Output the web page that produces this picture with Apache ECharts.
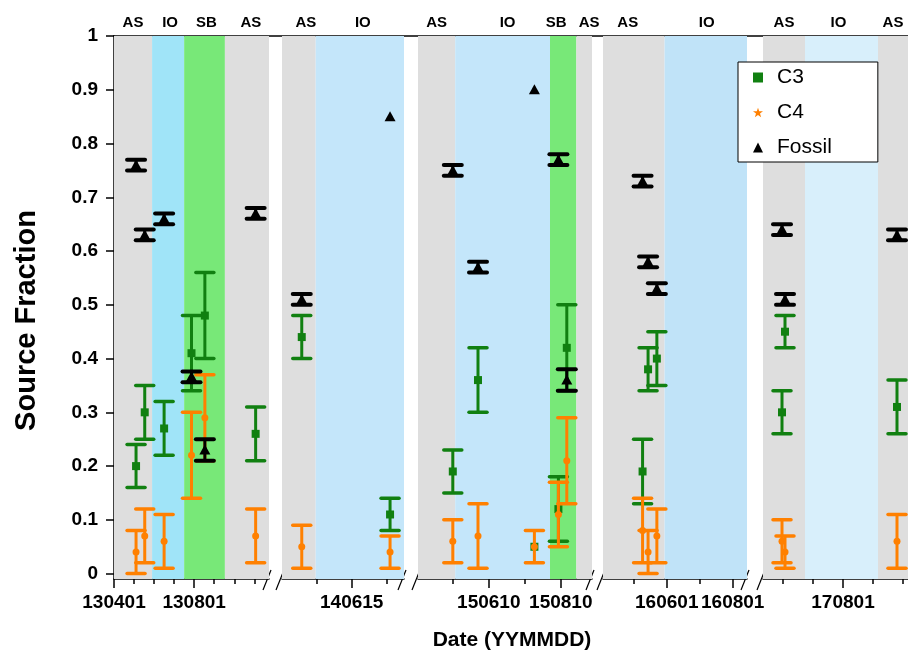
<!DOCTYPE html>
<html>
<head>
<meta charset="utf-8">
<title>Source Fraction</title>
<script src="https://cdn.jsdelivr.net/npm/echarts@6/dist/echarts.min.js"></script>
<style>
  html, body { margin: 0; padding: 0; background: #fff; }
  #main { width: 908px; height: 655px; }
</style>
</head>
<body>
<div id="main"></div>
<script>
// sampling dates (YYMMDD)
const dates = ['130504', '130517', '130616', '130727', '130817', '131103',
  '140502', '140718',
  '150510', '150531', '150718', '150808', '150815',
  '160509', '160514', '160522',
  '170530', '170603', '170925']
// source fractions and their errors
const c3 = [0.20, 0.30, 0.27, 0.41, 0.48, 0.26, 0.44, 0.11, 0.19, 0.36, 0.05, 0.12, 0.42, 0.19, 0.38, 0.40, 0.30, 0.45, 0.31]
const c3Err = [0.04, 0.05, 0.05, 0.07, 0.08, 0.05, 0.04, 0.03, 0.04, 0.06, 0, 0.06, 0.08, 0.06, 0.04, 0.05, 0.04, 0.03, 0.05]
const c4 = [0.04, 0.07, 0.06, 0.22, 0.29, 0.07, 0.05, 0.04, 0.06, 0.07, 0.05, 0.11, 0.21, 0.08, 0.04, 0.07, 0.06, 0.04, 0.06]
const c4Err = [0.04, 0.05, 0.05, 0.08, 0.08, 0.05, 0.04, 0.03, 0.04, 0.06, 0.03, 0.06, 0.08, 0.06, 0.04, 0.05, 0.04, 0.03, 0.05]
const fossil = [0.76, 0.63, 0.66, 0.366, 0.23, 0.67, 0.51, 0.85, 0.75, 0.57, 0.90, 0.77, 0.36, 0.73, 0.58, 0.53, 0.64, 0.51, 0.63]
const fossilErr = [0.01, 0.01, 0.01, 0.01, 0.02, 0.01, 0.01, 0, 0.01, 0.01, 0, 0.01, 0.02, 0.01, 0.01, 0.01, 0.01, 0.01, 0.01]

// broken axis: date range of each piece
const segStart = ['130401', '140415', '150411', '160403', '170511']
const segEnd = ['131123', '140730', '150906', '160814', '171006']
const tickLabels = [['130401', '130801'], ['140615'], ['150610', '150810'], ['160601', '160801'], ['170801']]
const minorTicks = [
  ['130501', '130601', '130701', '130901', '131001', '131101'],
  ['140515', '140715'],
  ['150510', '150710'],
  ['160501', '160701'],
  ['170601', '170701', '170901', '171001'],
]
const yTicks = [0, 0.1, 0.2, 0.3, 0.4, 0.5, 0.6, 0.7, 0.8, 0.9, 1]

// shaded periods
const bandSeg = [0, 0, 0, 0, 1, 1, 2, 2, 2, 2, 3, 3, 4, 4, 4]
const bandName = ['AS', 'IO', 'SB', 'AS', 'AS', 'IO', 'AS', 'IO', 'SB', 'AS', 'AS', 'IO', 'AS', 'IO', 'AS']
const bandStart = ['130401', '130528', '130716', '130917', '140415', '140514', '150411', '150512', '150801', '150823', '160403', '160529', '170511', '170623', '170906']
const bandEnd = ['130528', '130716', '130917', '131123', '140514', '140730', '150512', '150801', '150823', '150906', '160529', '160814', '170623', '170906', '171006']

// layout of the pieces (px)
const segLeft = [114, 282, 418, 603, 763]
const segWidth = [155, 122, 174, 144, 145]
const bandLabelDx = [0, 2, 2, 4, 7, 3, 0, 5, -7, 5, -6, 1, 0, -3, 0]
const ioColor = ['#a0e4f8', '#c4e6fa', '#c4e6fa', '#c0e3f8', '#d8effb']
const GREEN = '#118011'
const ORANGE = '#ff8000'
const FONT = '"Liberation Sans", Arial, sans-serif'

// YYMMDD -> months since 2013-01
function toMonth(s) {
  const yy = +s.slice(0, 2), mm = +s.slice(2, 4), dd = +s.slice(4, 6)
  return (yy - 13) * 12 + (mm - 1) + (dd - 1) / 30
}

function errorBar(color, marker, capWidth) {
  return function (params, api) {
    const x = api.value(0), y = api.value(1), e = api.value(2)
    const p = api.coord([x, y])
    const children = []
    if (e > 0) {
      const t = api.coord([x, y + e])[1]
      const b = api.coord([x, y - e])[1]
      children.push({ type: 'line', shape: { x1: p[0], y1: t, x2: p[0], y2: b }, style: { stroke: color, lineWidth: 3 } })
      children.push({ type: 'line', shape: { x1: p[0] - 9, y1: t, x2: p[0] + 9, y2: t }, style: { stroke: color, lineWidth: capWidth, lineCap: 'round' } })
      children.push({ type: 'line', shape: { x1: p[0] - 9, y1: b, x2: p[0] + 9, y2: b }, style: { stroke: color, lineWidth: capWidth, lineCap: 'round' } })
    }
    if (marker === 'square') {
      children.push({ type: 'rect', shape: { x: p[0] - 4, y: p[1] - 4, width: 8, height: 8 }, style: { fill: color } })
    } else if (marker === 'triangle') {
      children.push({ type: 'polygon', shape: { points: [[p[0], p[1] - 5.5], [p[0] - 5.5, p[1] + 4.5], [p[0] + 5.5, p[1] + 4.5]] }, style: { fill: color } })
    } else {
      children.push({ type: 'circle', shape: { cx: p[0], cy: p[1], r: 3.5 }, style: { fill: color } })
    }
    return { type: 'group', children: children }
  }
}

function segOf(d) {
  const m = toMonth(d)
  for (let s = 0; s < segStart.length; s++) {
    if (m >= toMonth(segStart[s]) && m <= toMonth(segEnd[s])) return s
  }
  return -1
}

const grids = [], xAxes = [], yAxes = [], series = []
const groups = [
  { name: 'C3', vals: c3, errs: c3Err, color: GREEN, marker: 'square', cap: 3.5 },
  { name: 'C4', vals: c4, errs: c4Err, color: ORANGE, marker: 'dot', cap: 3.5 },
  { name: 'Fossil', vals: fossil, errs: fossilErr, color: '#000', marker: 'triangle', cap: 4 },
]

for (let s = 0; s < segStart.length; s++) {
  grids.push({ left: segLeft[s], width: segWidth[s], top: 36, bottom: 76 })
  const min = toMonth(segStart[s]), max = toMonth(segEnd[s])
  const labels = tickLabels[s]
  xAxes.push({
    gridIndex: s, type: 'value', position: 'bottom', min: min, max: max,
    axisLine: { show: true, onZero: false, lineStyle: { color: '#000', width: 1.5 } },
    axisTick: { show: true, length: 9, customValues: labels.map(toMonth), lineStyle: { color: '#000', width: 1.5 } },
    axisLabel: {
      customValues: labels.map(toMonth), margin: 14, color: '#000', fontSize: 19, fontWeight: 'bold', fontFamily: FONT,
      formatter: function (v) {
        const hit = labels.find(function (l) { return Math.abs(toMonth(l) - v) < 1e-6 })
        return hit || ''
      },
    },
    splitLine: { show: false },
  })
  xAxes.push({
    gridIndex: s, type: 'value', position: 'bottom', min: min, max: max,
    axisLine: { show: false, onZero: false },
    axisTick: { show: true, length: 5, customValues: minorTicks[s].map(toMonth), lineStyle: { color: '#000', width: 1.5 } },
    axisLabel: { show: false },
    splitLine: { show: false },
  })
  const y = {
    gridIndex: s, type: 'value', min: -0.01, max: 1, show: s === 0,
    axisLine: { show: true, onZero: false, lineStyle: { color: '#000', width: 1.5 } },
    axisTick: { show: true, length: 8, customValues: yTicks, lineStyle: { color: '#000', width: 1.5 } },
    axisLabel: {
      customValues: yTicks, margin: 16, color: '#000', fontSize: 19, fontWeight: 'bold', fontFamily: FONT,
      formatter: function (v) { return String(+v.toFixed(1)) },
    },
    splitLine: { show: false },
  }
  if (s === 0) {
    y.name = 'Source Fraction'
    y.nameLocation = 'middle'
    y.nameGap = 73
    y.nameTextStyle = { fontSize: 29, fontWeight: 'bold', color: '#000', fontFamily: FONT, padding: [0, 26, 0, 0] }
  }
  yAxes.push(y)

  // background periods
  const areas = []
  for (let i = 0; i < bandName.length; i++) {
    if (bandSeg[i] !== s) continue
    const n = bandName[i]
    const color = n === 'AS' ? '#dedede' : n === 'SB' ? '#78e878' : ioColor[s]
    areas.push([
      { name: n, xAxis: toMonth(bandStart[i]), itemStyle: { color: color }, label: { offset: [bandLabelDx[i], 0] } },
      { xAxis: toMonth(bandEnd[i]) },
    ])
  }
  series.push({
    type: 'line', xAxisIndex: 2 * s, yAxisIndex: s, data: [], symbol: 'none', silent: true,
    markArea: {
      silent: true,
      label: { show: true, position: 'top', distance: 6, color: '#000', fontSize: 15, fontWeight: 'bold', fontFamily: FONT },
      data: areas,
    },
  })

  groups.forEach(function (g) {
    const data = []
    dates.forEach(function (d, i) {
      if (segOf(d) === s) data.push([toMonth(d), g.vals[i], g.errs[i]])
    })
    series.push({
      name: g.name, type: 'custom', xAxisIndex: 2 * s, yAxisIndex: s,
      itemStyle: { color: g.color },
      encode: { x: 0, y: 1 },
      renderItem: errorBar(g.color, g.marker, g.cap),
      data: data,
    })
  })
}

// top frame line, axis break marks, x title
const graphics = [
  { type: 'line', silent: true, shape: { x1: 113, y1: 36, x2: 908, y2: 36 }, style: { stroke: '#000', lineWidth: 1.5 } },
  { type: 'text', silent: true, x: 512, y: 640, style: { text: 'Date (YYMMDD)', font: 'bold 21px ' + FONT, fill: '#000', align: 'center', verticalAlign: 'middle' } },
]
for (let s = 0; s < segLeft.length - 1; s++) {
  const xe = segLeft[s] + segWidth[s], xs = segLeft[s + 1]
  ;[xe, xs].forEach(function (x) {
    graphics.push({ type: 'line', silent: true, shape: { x1: x - 6, y1: 590, x2: x + 2, y2: 570 }, style: { stroke: '#000', lineWidth: 1.2 } })
  })
}

const myChart = echarts.init(document.getElementById('main'))
myChart.setOption({
  animation: false,
  backgroundColor: '#fff',
  textStyle: { fontFamily: FONT },
  grid: grids,
  xAxis: xAxes,
  yAxis: yAxes,
  legend: {
    orient: 'vertical',
    left: 738,
    top: 62,
    padding: [5, 46, 4, 15],
    itemGap: 14,
    itemWidth: 10,
    itemHeight: 10,
    backgroundColor: '#fff',
    borderColor: '#000',
    borderWidth: 1,
    textStyle: { fontSize: 21, color: '#000', padding: [0, 0, 0, 9] },
    data: [
      { name: 'C3', icon: 'rect', itemStyle: { color: GREEN } },
      { name: 'C4', icon: 'path://M5,0 L6.2,3.5 L10,3.5 L7,5.8 L8.1,9.5 L5,7.2 L1.9,9.5 L3,5.8 L0,3.5 L3.8,3.5 Z', itemStyle: { color: ORANGE } },
      { name: 'Fossil', icon: 'triangle', itemStyle: { color: '#000' } },
    ],
  },
  graphic: graphics,
  series: series,
})
</script>
</body>
</html>
